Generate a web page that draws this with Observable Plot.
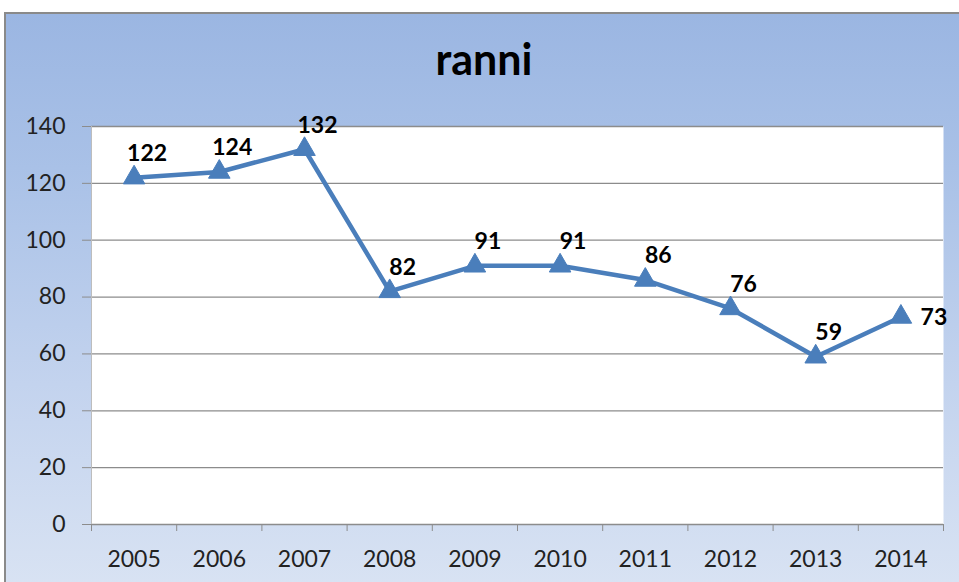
<!DOCTYPE html>
<html>
<head>
<meta charset="utf-8">
<script src="https://cdn.jsdelivr.net/npm/d3@7"></script>
<script src="https://cdn.jsdelivr.net/npm/@observablehq/plot@0.6"></script>
<style>
  html, body { margin: 0; padding: 0; width: 959px; height: 582px; overflow: hidden; background: #ffffff; }
  #frame {
    position: absolute; left: 4px; top: 12px; width: 1000px; height: 620px;
    border: 2px solid #8a8a8a; box-sizing: border-box;
    background: linear-gradient(to bottom, #9bb6e2 0%, #a9c1e7 25%, #c3d3ee 60%, #dde6f4 100%);
  }
  #title {
    position: absolute; left: 0; top: 33px; width: 968px; text-align: center;
    font-family: Lato, "Open Sans", sans-serif; font-weight: bold; font-size: 43px; color: #000;
  }
  #chart { position: absolute; left: 0; top: 0; }
</style>
</head>
<body>
<div id="frame"></div>
<div id="title">ranni</div>
<div id="chart"></div>
<script>
const years = [2005, 2006, 2007, 2008, 2009, 2010, 2011, 2012, 2013, 2014];
const values = [122, 124, 132, 82, 91, 91, 86, 76, 59, 73];
const yTicks = [0, 20, 40, 60, 80, 100, 120, 140];

const data = years.map((year, i) => ({year, value: values[i]}));
const boundaries = years.map(y => y - 0.5).concat([years[years.length - 1] + 0.5]);
const lastYear = years[years.length - 1];

const color = "#4a7ebb";
const font = "Lato, 'Open Sans', sans-serif";

const chart = Plot.plot({
  width: 959,
  height: 582,
  marginLeft: 91,
  marginRight: 16,
  marginTop: 126,
  marginBottom: 58,
  style: { background: "transparent", fontFamily: font, overflow: "visible" },
  x: { domain: [years[0] - 0.5, lastYear + 0.5] },
  y: { domain: [0, 140] },
  marks: [
    Plot.frame({ fill: "white", stroke: null }),
    Plot.ruleY(yTicks, { stroke: "#8c8c8c", strokeWidth: 1.3 }),
    Plot.ruleX([years[0] - 0.5], { stroke: "#bdbdbd", strokeWidth: 1 }),
    Plot.axisY({ ticks: yTicks, tickSize: 9, tickPadding: 17, fontSize: 23, stroke: "#8c8c8c", fill: "#222", label: null, tickFormat: d => String(d) }),
    Plot.axisX({ ticks: boundaries, tickSize: 7, tickFormat: () => "", stroke: "#8c8c8c", label: null }),
    Plot.axisX({ ticks: years, tickSize: 0, tickPadding: 26, fontSize: 23, fill: "#222", label: null, tickFormat: d => String(d) }),
    Plot.line(data, { x: "year", y: "value", stroke: color, strokeWidth: 4.5 }),
    Plot.dot(data, { x: "year", y: "value", symbol: "triangle", r: 8, fill: color, stroke: color, strokeWidth: 1 }),
    Plot.text(data.filter(d => d.year !== lastYear), { x: "year", y: "value", text: d => String(d.value), dx: 13, dy: -24, fontSize: 23, fontWeight: "bold", fill: "#000" }),
    Plot.text(data.filter(d => d.year === lastYear), { x: "year", y: "value", text: d => String(d.value), dx: 33, dy: 1, fontSize: 23, fontWeight: "bold", fill: "#000" })
  ]
});
document.getElementById("chart").appendChild(chart);
</script>
</body>
</html>
